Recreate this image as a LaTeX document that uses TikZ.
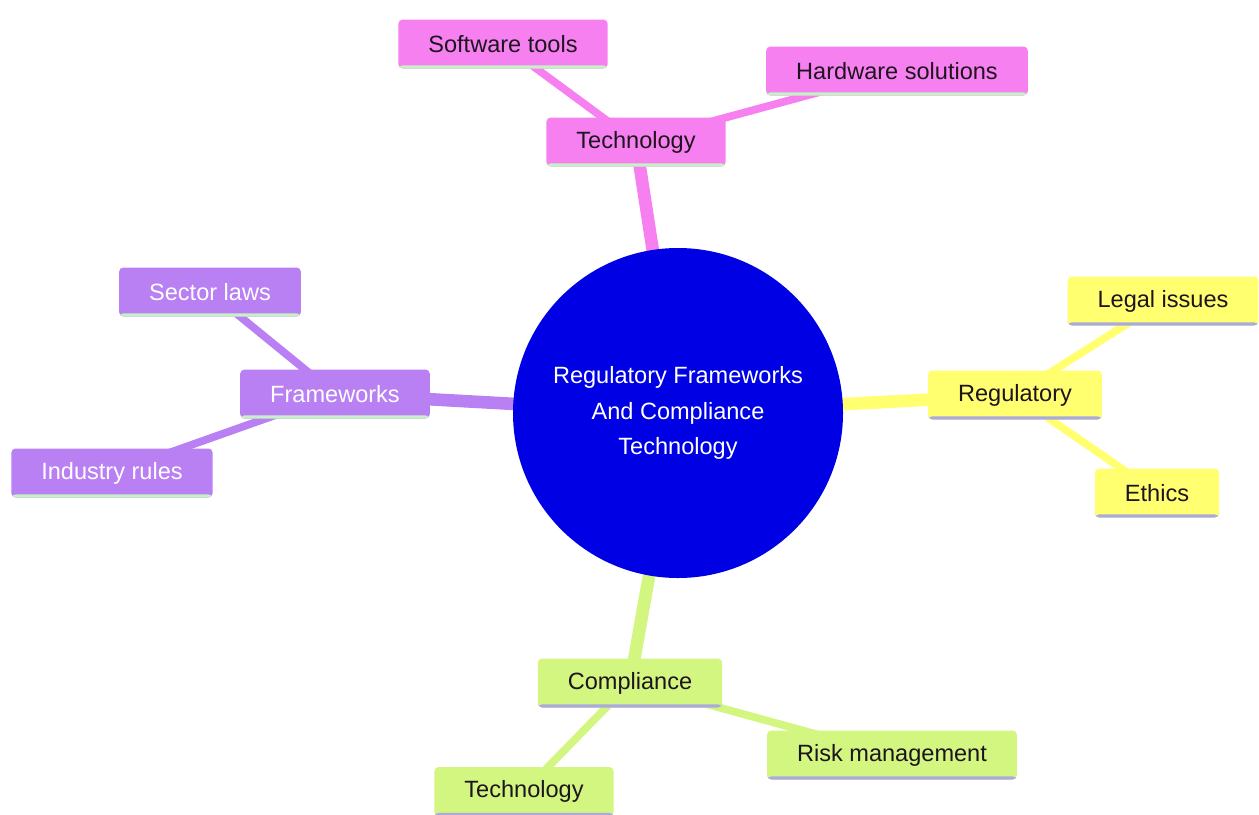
\documentclass[tikz,border=0pt]{standalone}
\usepackage{fontspec}
\setmainfont{Liberation Sans}
\usetikzlibrary{
  backgrounds,
}

\definecolor{hubblue}{RGB}{0,0,228}
\definecolor{techpink}{RGB}{246,128,240}
\definecolor{regyellow}{RGB}{255,255,112}
\definecolor{framepurple}{RGB}{184,128,242}
\definecolor{complgreen}{RGB}{210,246,128}
\definecolor{linegreen}{RGB}{200,240,200}
\definecolor{linelav}{RGB}{170,170,224}
\definecolor{textdark}{RGB}{30,20,30}

\tikzset{
  leaf/.style={rounded corners=1.2pt, minimum height=0.49cm, inner xsep=0.3cm,
    font=\fontsize{6.7}{8}\selectfont, text=textdark},
  under/.style={path picture={\fill[#1] (path picture bounding box.south west)
    rectangle ([yshift=0.9pt]path picture bounding box.south east);}},
  techbox/.style={leaf, fill=techpink, under=linegreen},
  regbox/.style={leaf, fill=regyellow, under=linelav},
  framebox/.style={leaf, fill=framepurple, under=linegreen, text=white},
  complbox/.style={leaf, fill=complgreen, under=linelav},
  trunk/.style={line width=3.6pt},
  twig/.style={line width=2.2pt},
}

\begin{document}
\begin{tikzpicture}
\useasboundingbox (0,0) rectangle (12.59,-8.14);
\clip (0,0) rectangle (12.59,-8.14);

\node[circle, fill=hubblue, minimum size=3.3cm, text=white, align=center,
  font=\fontsize{6.7}{10.2}\selectfont] (hub) at (6.78,-4.13)
  {Regulatory Frameworks\\And Compliance\\Technology};

\node[techbox] (tech) at (6.36,-1.42) {Technology};
\node[techbox] (soft) at (5.03,-0.44) {Software tools};
\node[techbox] (hard) at (8.97,-0.71) {Hardware solutions};

\node[regbox] (regu) at (10.15,-3.95) {Regulatory};
\node[regbox] (legal) at (11.63,-3.01) {Legal issues};
\node[regbox] (ethics) at (11.57,-4.93) {Ethics};

\node[framebox] (frame) at (3.35,-3.94) {Frameworks};
\node[framebox] (sector) at (2.10,-2.92) {Sector laws};
\node[framebox] (industry) at (1.12,-4.73) {Industry rules};

\node[complbox] (compl) at (6.30,-6.83) {Compliance};
\node[complbox] (risk) at (8.92,-7.55) {Risk management};
\node[complbox] (techb) at (5.24,-7.915) {Technology};

\begin{scope}[on background layer]
\draw[trunk, techpink] (hub.center) -- (tech.center);
\draw[twig, techpink] (tech.center) -- (soft.center);
\draw[twig, techpink] (tech.center) -- (hard.center);
\draw[trunk, regyellow] (hub.center) -- (regu.center);
\draw[twig, regyellow] (regu.center) -- (legal.center);
\draw[twig, regyellow] (regu.center) -- (ethics.center);
\draw[trunk, framepurple] (hub.center) -- (frame.center);
\draw[twig, framepurple] (frame.center) -- (sector.center);
\draw[twig, framepurple] (frame.center) -- (industry.center);
\draw[trunk, complgreen] (hub.center) -- (compl.center);
\draw[twig, complgreen] (compl.center) -- (risk.center);
\draw[twig, complgreen] (compl.center) -- (techb.center);
\end{scope}
\end{tikzpicture}
\end{document}
